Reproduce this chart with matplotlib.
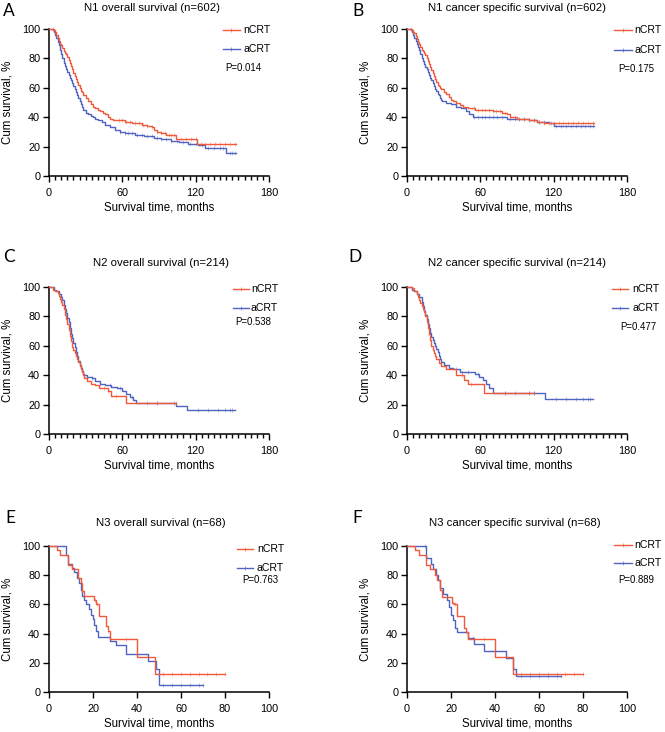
import numpy as np
import matplotlib
matplotlib.use('Agg')
import matplotlib.pyplot as plt

plt.rcParams['font.family'] = ['Liberation Sans', 'DejaVu Sans']

RED = '#f05a3a'
BLUE = '#4f64c0'

# ---- panel A: N1 overall survival ----
a_n_t = [0, 4, 5, 6, 7, 8, 9, 10, 11, 12, 13, 14, 15, 16, 17, 18, 19, 20, 21, 22, 23, 24, 25, 26, 27, 28,
         30, 32, 34, 36, 38, 40, 42, 44, 46, 48, 50, 52, 56, 62, 68, 72, 76, 80, 84, 86, 88, 92, 96, 104, 121, 153]
a_n_s = [100, 99, 98, 96, 94, 92, 90, 89, 87, 85, 84, 83, 81, 79, 77, 75, 73, 70, 68, 66, 64, 62, 60, 58, 57, 55,
         53, 51, 49, 47, 46, 45, 44, 43, 42, 40, 39, 38, 38, 37, 36, 36, 35, 34, 33, 31, 30, 29, 28, 25, 22, 22]
a_a_t = [0, 3, 4, 5, 6, 7, 8, 9, 10, 11, 12, 13, 14, 15, 16, 17, 18, 19, 20, 21, 22, 23, 24, 25, 26, 27, 28,
         30, 32, 34, 36, 38, 40, 43, 46, 50, 54, 58, 62, 70, 78, 86, 92, 100, 106, 114, 122, 128, 145, 153]
a_a_s = [100, 99, 98, 96, 94, 91, 89, 86, 83, 80, 77, 75, 73, 71, 69, 67, 65, 63, 61, 59, 57, 55, 53, 51, 49, 47, 45,
         43, 42, 41, 40, 39, 38, 37, 35, 33, 31, 30, 29, 28, 27, 26, 25, 24, 23, 22, 21, 19, 15.5, 15.5]
a_n_c = [3, 5, 57, 60, 63, 66, 70, 74, 77, 80, 84, 88, 92, 95, 98, 100, 102, 108, 112, 116, 120, 124, 128, 132,
         136, 140, 144, 148, 152]
a_a_c = [58, 62, 65, 68, 72, 76, 80, 84, 88, 92, 96, 100, 105, 110, 115, 120, 125, 130, 135, 140, 142, 148, 150, 152]

# ---- panel B: N1 cancer specific survival ----
b_n_t = [0, 4, 5, 6, 7, 8, 9, 10, 11, 12, 13, 14, 15, 16, 17, 18, 19, 20, 21, 22, 23, 24, 25, 26, 27, 28,
         30, 32, 34, 36, 38, 40, 43, 46, 50, 56, 64, 70, 78, 82, 84, 90, 100, 106, 112, 120, 153]
b_n_s = [100, 99, 98, 97, 95, 93, 91, 90, 88, 86, 85, 84, 82, 80, 78, 76, 74, 72, 70, 68, 66, 64, 62, 61, 60, 59,
         57, 56, 54, 52, 51, 50, 48, 47, 46, 45, 45, 44, 43, 42, 40, 39, 38, 37, 36, 36, 36]
b_a_t = [0, 3, 4, 5, 6, 7, 8, 9, 10, 11, 12, 13, 14, 15, 16, 17, 18, 19, 20, 21, 22, 23, 24, 25, 26, 27, 28,
         29, 32, 36, 40, 44, 48, 51, 54, 82, 100, 106, 116, 120, 153]
b_a_s = [100, 99, 98, 96, 94, 92, 90, 88, 86, 83, 80, 78, 76, 74, 73, 71, 69, 67, 65, 63, 61, 59, 58, 56, 55, 53, 52,
         51, 50, 49, 47, 46, 44, 42, 40, 39, 38, 37, 36, 34, 34]
b_n_c = [3, 5, 55, 58, 61, 64, 67, 70, 73, 76, 80, 84, 88, 92, 96, 100, 104, 108, 112, 116, 120, 124, 128, 132,
         136, 140, 144, 148, 152]
b_a_c = [55, 58, 61, 64, 67, 70, 74, 78, 84, 88, 92, 96, 100, 104, 108, 112, 118, 122, 126, 130, 134, 138, 142,
         146, 150, 152]

# ---- panel C: N2 overall survival ----
c_n_t = [0, 3, 5, 7, 8, 9, 10, 11, 12, 13, 14, 15, 16, 17, 18, 19, 20, 21, 22, 23, 24, 25, 26, 27, 28, 29,
         31, 34, 38, 41, 48, 51, 63, 104]
c_n_s = [100, 98, 97, 96, 94, 92, 90, 88, 85, 81, 78, 75, 71, 67, 63, 59, 57, 55, 53, 51, 49, 46, 44, 42, 40, 38,
         36, 34, 33, 31, 29, 26, 21, 21]
c_a_t = [0, 4, 6, 8, 10, 11, 12, 13, 14, 15, 16, 17, 18, 19, 20, 21, 22, 23, 24, 25, 26, 27, 28, 29, 31, 35,
         38, 42, 46, 51, 56, 60, 63, 66, 69, 71, 104, 113, 152]
c_a_s = [100, 98, 97, 95, 93, 91, 88, 85, 82, 79, 76, 72, 68, 65, 62, 59, 56, 53, 50, 47, 45, 43, 41, 40, 39, 38,
         36, 34, 33, 32, 31, 29, 27, 25, 23, 21, 19, 16.5, 16.5]
c_n_c = [45, 48, 55, 88, 104]
c_a_c = [35, 42, 50, 58, 68, 80, 88, 102, 122, 130, 138, 144, 148, 150]

# ---- panel D: N2 cancer specific survival ----
d_n_t = [0, 4, 6, 8, 9, 10, 11, 12, 13, 14, 15, 16, 17, 18, 19, 20, 21, 22, 23, 24, 26, 28, 32, 40, 47, 50,
         63, 104]
d_n_s = [100, 99, 97, 95, 93, 91, 89, 87, 85, 83, 80, 76, 72, 68, 64, 60, 57, 55, 53, 51, 48, 46, 44, 40, 37, 34,
         28, 28]
d_a_t = [0, 4, 6, 8, 10, 12, 13, 14, 15, 16, 17, 18, 19, 20, 21, 22, 23, 24, 25, 26, 27, 28, 30, 34, 38, 43,
         56, 59, 62, 65, 67, 70, 113, 152]
d_a_s = [100, 98, 97, 95, 93, 90, 87, 84, 81, 78, 75, 72, 69, 66, 64, 62, 60, 58, 56, 53, 51, 49, 47, 45, 44, 42,
         41, 39, 37, 34, 31, 28, 24, 24]
d_n_c = [45, 52, 80, 100, 104]
d_a_c = [40, 45, 50, 58, 80, 88, 100, 104, 122, 130, 138, 144, 148, 150]

# ---- panel E: N3 overall survival ----
e_n_t = [0, 3.5, 5, 8.5, 10.5, 13, 14.5, 15.2, 16, 20.5, 21.5, 22.5, 26, 26.8, 27.8, 40, 48, 80]
e_n_s = [100, 97, 94, 87, 84, 78, 75, 69, 66, 63, 60, 52, 45, 42, 36, 24, 12, 12]
e_a_t = [0, 7.5, 8.5, 10.5, 11.5, 12.5, 13.5, 14.5, 15.2, 16, 17, 18, 19, 19.8, 20.6, 21.4, 22.4, 27.5, 30.5,
         35, 45, 48.5, 49.8, 70]
e_a_s = [100, 94, 88, 85, 82, 78, 75, 70, 66, 63, 60, 57, 53, 50, 46, 42, 38, 35, 32, 26, 21, 16, 5, 5]
e_n_c = [21, 22, 27, 35, 52, 56, 60, 64, 68, 72, 76, 80]
e_a_c = [52, 56, 60, 64, 68, 70]

# ---- panel F: N3 cancer specific survival ----
f_n_t = [0, 3.5, 5.5, 8.5, 10.5, 12.5, 13.5, 15, 16, 20.5, 21.5, 22.5, 26, 26.8, 27.8, 40, 48, 80]
f_n_s = [100, 97, 94, 87, 84, 80, 77, 70, 65, 61, 60, 52, 44, 41, 36, 24, 12, 12]
f_a_t = [0, 8.5, 11, 12, 13, 14, 15, 16.5, 18, 19, 20, 21, 21.7, 22.7, 27.7, 30.4, 35, 45, 48, 49.5, 70]
f_a_s = [100, 92, 88, 84, 80, 77, 71, 67, 63, 58, 53, 49, 44, 41, 37, 33, 28, 23, 16, 11, 11]
f_n_c = [21, 22, 27, 35, 52, 56, 60, 64, 68, 72, 76, 80]
f_a_c = [8, 30, 52, 56, 60, 64, 68, 70]

letters = ['A', 'B', 'C', 'D', 'E', 'F']
titles = ['N1 overall survival (n=602)', 'N1 cancer specific survival (n=602)',
          'N2 overall survival (n=214)', 'N2 cancer specific survival (n=214)',
          'N3 overall survival (n=68)', 'N3 cancer specific survival (n=68)']
p_values = ['P=0.014', 'P=0.175', 'P=0.538', 'P=0.477', 'P=0.763', 'P=0.889']

curves = [
    (a_n_t, a_n_s, a_n_c, a_a_t, a_a_s, a_a_c),
    (b_n_t, b_n_s, b_n_c, b_a_t, b_a_s, b_a_c),
    (c_n_t, c_n_s, c_n_c, c_a_t, c_a_s, c_a_c),
    (d_n_t, d_n_s, d_n_c, d_a_t, d_a_s, d_a_c),
    (e_n_t, e_n_s, e_n_c, e_a_t, e_a_s, e_a_c),
    (f_n_t, f_n_s, f_n_c, f_a_t, f_a_s, f_a_c),
]

W, H = 665, 732
fig = plt.figure(figsize=(W / 100, H / 100), dpi=100)

# axes boxes in pixels: left, top, bottom
lefts = [49, 407]
rows = [(29, 176), (287, 434), (546, 692)]
# title centers and letter positions (pixels)
title_xy = [(152, 8), (517, 8), (161, 263), (517, 263), (161, 523), (515, 523)]
letter_xy = [(9, 11), (358, 11), (9, 257), (355, 257), (10, 518), (357, 518)]
# legend layout in axes fraction: line x0, x1, text x, nCRT y, aCRT y, P x, P y
leg = [
    (0.791, 0.868, 0.882, 0.995, 0.862, 0.80, 0.733),
    (0.941, 1.023, 1.032, 0.993, 0.857, 0.959, 0.728),
    (0.836, 0.909, 0.918, 0.985, 0.855, 0.845, 0.765),
    (0.932, 1.005, 1.023, 0.986, 0.857, 0.968, 0.730),
    (0.855, 0.927, 0.945, 0.979, 0.852, 0.877, 0.770),
    (0.941, 1.023, 1.032, 1.010, 0.885, 0.959, 0.767),
]


def surv_at(t, s, x):
    idx = np.searchsorted(np.asarray(t), x, side='right') - 1
    return np.asarray(s)[idx]


for i in range(6):
    row, col = divmod(i, 2)
    top, bot = rows[row]
    left = lefts[col]
    ax = fig.add_axes([left / W, 1 - bot / H, 220 / W, (bot - top) / H])
    nt, ns, nc, at, as_, ac = curves[i]

    for t, s, c, color in [(at, as_, ac, BLUE), (nt, ns, nc, RED)]:
        ax.step(t, s, where='post', color=color, lw=1.0, clip_on=False, zorder=3)
        ax.plot(c, surv_at(t, s, c), ls='none', marker='|', ms=3.5, mew=0.6,
                color=color, alpha=0.5, clip_on=False, zorder=3)

    if row < 2:
        ax.set_xlim(0, 180)
        ax.set_xticks([0, 60, 120, 180])
        ax.set_xticks(np.arange(0, 181, 5), minor=True)
    else:
        ax.set_xlim(0, 100)
        ax.set_xticks([0, 20, 40, 60, 80, 100])
    ax.set_ylim(0, 100)
    ax.set_yticks([0, 20, 40, 60, 80, 100])

    for sp in ['top', 'right']:
        ax.spines[sp].set_visible(False)
    for sp in ['left', 'bottom']:
        ax.spines[sp].set_linewidth(1.1)
    ax.tick_params(axis='both', which='major', length=4.3, width=1.0, labelsize=7.8, pad=2)
    ax.tick_params(axis='x', which='major', pad=4)
    ax.tick_params(axis='x', which='minor', length=2.8, width=1.0)

    ax.set_xlabel('Survival time, months', fontsize=8.3)
    ax.xaxis.label.set_va('center')
    ax.xaxis.set_label_coords(0.5, -0.215)
    ax.set_ylabel('Cum survival, %', fontsize=8.3)
    ax.yaxis.label.set_va('center')
    ax.yaxis.set_label_coords(-0.19, 0.5)

    lx0, lx1, tx, yn, ya, px, py = leg[i]
    for y, color, name in [(yn, RED, 'nCRT'), (ya, BLUE, 'aCRT')]:
        ax.plot([lx0, lx1], [y, y], color=color, lw=1.0, transform=ax.transAxes, clip_on=False)
        ax.plot([(lx0 + lx1) / 2], [y], marker='|', ms=3.5, mew=0.6, color=color, alpha=0.7,
                transform=ax.transAxes, clip_on=False)
        ax.text(tx, y, name, transform=ax.transAxes, fontsize=7.6, va='center', ha='left')
    ax.text(px, py, p_values[i], transform=ax.transAxes, fontsize=6.9, va='center', ha='left')

    fig.text(title_xy[i][0] / W, 1 - title_xy[i][1] / H, titles[i], fontsize=8.2,
             ha='center', va='center')
    fig.text(letter_xy[i][0] / W, 1 - letter_xy[i][1] / H, letters[i], fontsize=12.5,
             ha='center', va='center', family=['Lato', 'DejaVu Sans'])

fig.savefig('out.png', dpi=100)
